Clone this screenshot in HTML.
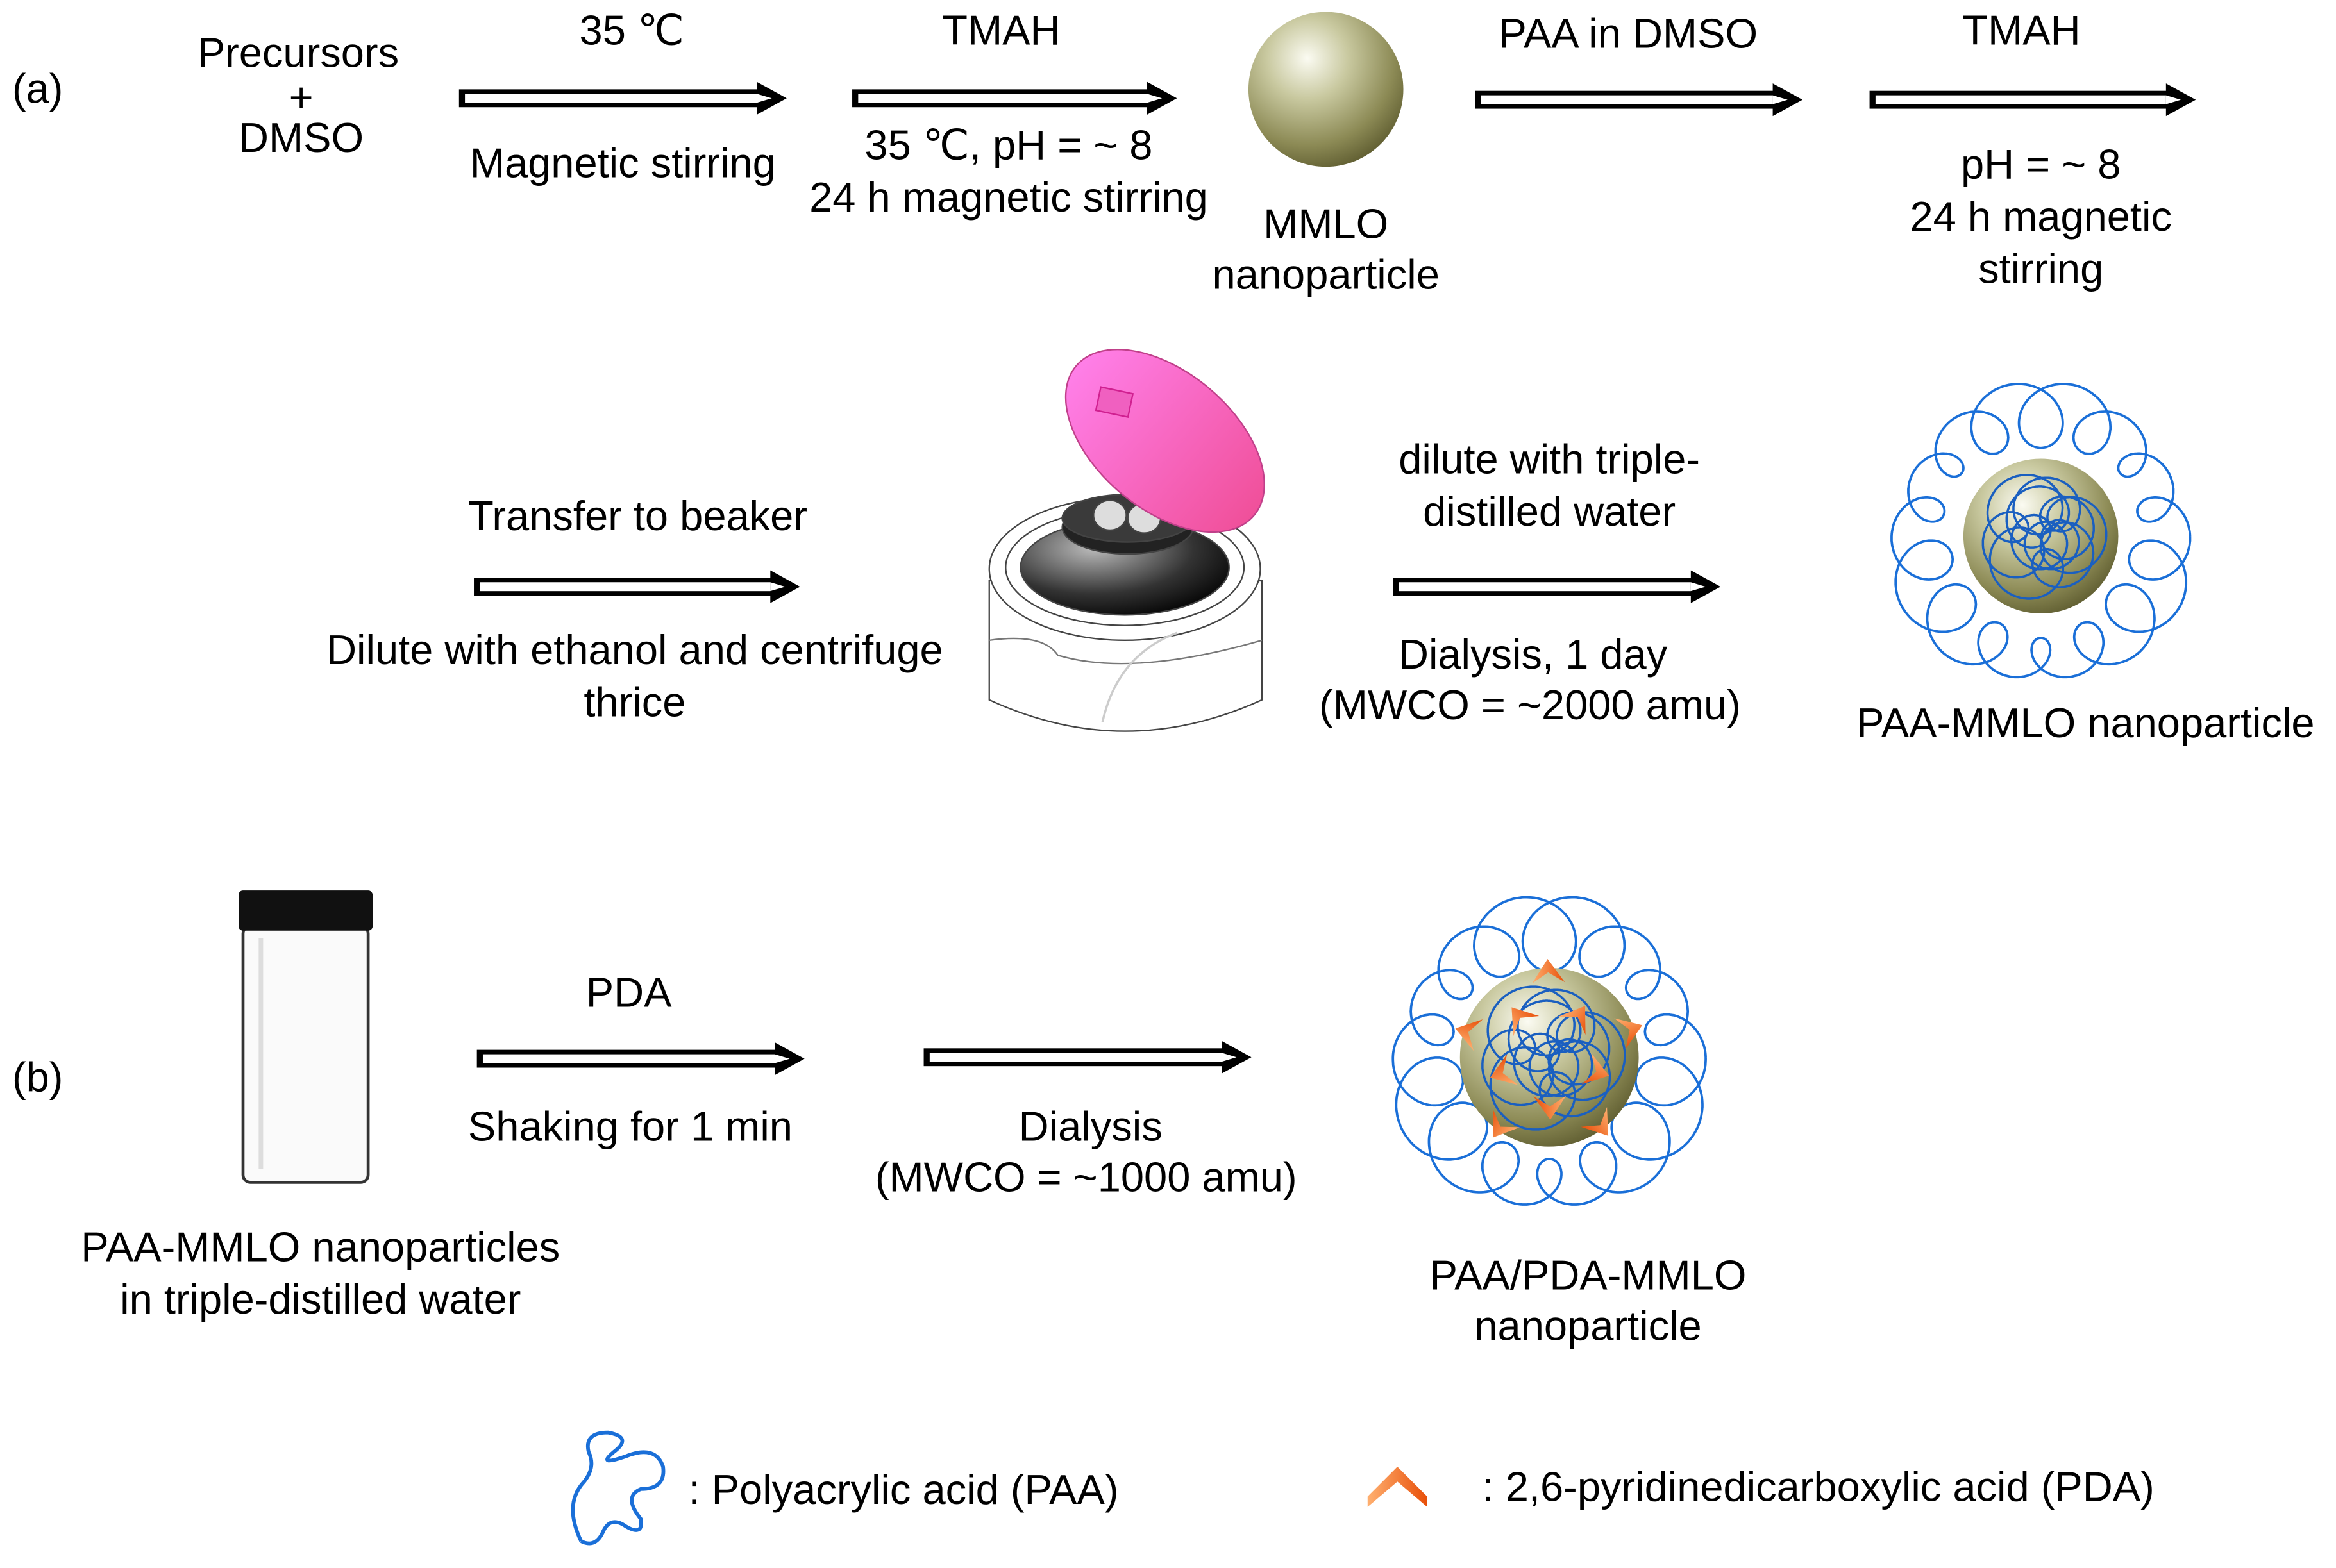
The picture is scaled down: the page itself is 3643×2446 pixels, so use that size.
<!DOCTYPE html>
<html><head><meta charset="utf-8"><style>
html,body{margin:0;padding:0;background:#fff}
svg{display:block}
text{font-family:"Liberation Sans",Arial,sans-serif;font-size:28px;fill:#000}
</style></head><body>
<svg id="s" width="3643" height="2446" viewBox="0 0 1568 1053" xmlns="http://www.w3.org/2000/svg">
<defs>
<radialGradient id="sph" cx="0.38" cy="0.3" r="0.75">
<stop offset="0" stop-color="#fbfbf2"/><stop offset="0.35" stop-color="#c9c9a0"/><stop offset="0.75" stop-color="#8c8a55"/><stop offset="1" stop-color="#5e5c30"/>
</radialGradient>
<linearGradient id="lid" x1="0" y1="0" x2="1" y2="0"><stop offset="0" stop-color="#ff7fe8"/><stop offset="1" stop-color="#f0509a"/></linearGradient>
<radialGradient id="bowl" cx="0.35" cy="0.3" r="0.8"><stop offset="0" stop-color="#bbb"/><stop offset="0.6" stop-color="#333"/><stop offset="1" stop-color="#000"/></radialGradient>
<linearGradient id="or" x1="0" y1="0" x2="1" y2="0"><stop offset="0" stop-color="#ffb070"/><stop offset="1" stop-color="#e8500a"/></linearGradient>
</defs>
<g id="arrows"></g>

<text x="8" y="69" font-size="33">(a)</text>
<text x="8" y="733" font-size="33">(b)</text>

<g text-anchor="middle">
<text x="200" y="45" font-size="27">Precursors</text>
<text x="202" y="75" font-size="12">+</text>
<text x="202" y="102" font-size="27">DMSO</text>
<text x="424" y="30">35 ℃</text>
<text x="418" y="119">Magnetic stirring</text>
<text x="672" y="30">TMAH</text>
<text x="677" y="107">35 ℃, pH = ~ 8</text>
<text x="677" y="142">24 h magnetic stirring</text>
<text x="890" y="160">MMLO</text>
<text x="890" y="194">nanoparticle</text>
<text x="1093" y="32">PAA in DMSO</text>
<text x="1357" y="30">TMAH</text>
<text x="1370" y="120">pH = ~ 8</text>
<text x="1370" y="155">24 h magnetic</text>
<text x="1370" y="190">stirring</text>

<text x="428" y="356">Transfer to beaker</text>
<text x="426" y="446">Dilute with ethanol and centrifuge</text>
<text x="426" y="481">thrice</text>
<text x="1040" y="318">dilute with triple-</text>
<text x="1040" y="353">distilled water</text>
<text x="1029" y="449">Dialysis, 1 day</text>
<text x="1027" y="483">(MWCO = ~2000 amu)</text>
<text x="1400" y="495">PAA-MMLO nanoparticle</text>

<text x="422" y="676">PDA</text>
<text x="423" y="766">Shaking for 1 min</text>
<text x="732" y="766">Dialysis</text>
<text x="729" y="800">(MWCO = ~1000 amu)</text>
<text x="215" y="847">PAA-MMLO nanoparticles</text>
<text x="215" y="882">in triple-distilled water</text>
<text x="1066" y="866">PAA/PDA-MMLO</text>
<text x="1066" y="900">nanoparticle</text>
</g>
<text x="462" y="1010">: Polyacrylic acid (PAA)</text>
<text x="995" y="1008">: 2,6-pyridinedicarboxylic acid (PDA)</text>

<circle cx="890" cy="60" r="52" fill="url(#sph)"/>

<!-- centrifuge -->
<g stroke="#444" stroke-width="1">
<path d="M664 390 L664 470 Q755 512 847 470 L847 390 Z" fill="#fff"/>
<path d="M664 430 Q700 425 710 440 Q760 455 847 430" fill="none" stroke="#777"/>
<ellipse cx="755" cy="382" rx="91" ry="48" fill="#fff"/>
<ellipse cx="755" cy="381" rx="80" ry="39" fill="none"/>
<ellipse cx="755" cy="381" rx="70" ry="32" fill="url(#bowl)"/>
<ellipse cx="757" cy="354" rx="44" ry="18" fill="#222"/>
<ellipse cx="757" cy="348" rx="44" ry="16" fill="#3a3a3a"/>
<ellipse cx="745" cy="346" rx="11" ry="10" fill="#ddd"/>
<ellipse cx="768" cy="348" rx="11" ry="10" fill="#ddd"/>
<path d="M740 485 Q750 440 790 425" fill="none" stroke="#ccc" stroke-width="1.5"/>
<ellipse cx="782" cy="296" rx="78" ry="46" transform="rotate(40 782 296)" fill="url(#lid)" stroke="#c0408a"/>
<rect x="737" y="262" width="22" height="16" transform="rotate(12 748 270)" fill="#f060c0" stroke="#d02090"/>
</g>

<!-- vial -->
<rect x="163" y="622" width="84" height="172" rx="5" fill="#fafafa" stroke="#333" stroke-width="2"/>
<line x1="175" y1="630" x2="175" y2="785" stroke="#ddd" stroke-width="3"/>
<rect x="160" y="598" width="90" height="27" rx="3" fill="#111"/>

<g id="p1"></g>
<g id="p2"></g>
<g id="leg"></g>
</svg>
<script>
const NS="http://www.w3.org/2000/svg";
function el(p,t,a){const e=document.createElementNS(NS,t);for(const k in a)e.setAttribute(k,a[k]);p.appendChild(e);return e;}
const A=document.getElementById('arrows');
function arrow(x1,x2,y){
  el(A,'rect',{x:x1,y:y-6,width:x2-x1-14,height:12,fill:'#000'});
  el(A,'rect',{x:x1+4,y:y-3,width:x2-x1-18,height:6,fill:'#fff'});
  el(A,'polygon',{points:`${x2-20},${y-11} ${x2},${y} ${x2-20},${y+11}`,fill:'#000'});
  el(A,'polygon',{points:`${x2-20},${y-3} ${x2-10},${y} ${x2-20},${y+3}`,fill:'#fff'});
}
arrow(308,528,66);arrow(572,790,66);arrow(990,1210,67);arrow(1255,1474,67);
arrow(318,537,394);arrow(935,1155,394);
arrow(320,540,711);arrow(620,840,710);
function troch(cx,cy,R,r,k,ph,w){
  let d='';for(let i=0;i<=1400;i++){const t=i/1400*2*Math.PI;
   const rr=r*(1+0.25*Math.sin(3*t+w));
   const x=cx+R*Math.cos(t)+rr*Math.cos(k*t+ph), y=cy+R*Math.sin(t)+rr*Math.sin(k*t+ph);
   d+=(i?'L':'M')+x.toFixed(1)+' '+y.toFixed(1);}return d;}
function particle(g,cx,cy,rs,R,orange){
  const G=document.getElementById(g);
  el(G,'path',{d:troch(cx,cy,R,rs*0.35,15,0,0),fill:'none',stroke:'#1a6fd8','stroke-width':1.6});
  el(G,'circle',{cx,cy,r:rs,fill:'url(#sph)'});
  el(G,'path',{d:troch(cx,cy,rs*0.45,rs*0.35,7,1,1),fill:'none',stroke:'#1a5fc0','stroke-width':1.5});
  el(G,'path',{d:troch(cx+5,cy-3,rs*0.25,rs*0.3,5,2,2),fill:'none',stroke:'#1a5fc0','stroke-width':1.5});
  if(orange){for(let i=0;i<10;i++){const a=i/10*2*Math.PI+0.3, rr=rs*(i%2?0.95:0.55);
    const x=cx+rr*Math.cos(a),y=cy+rr*Math.sin(a);
    el(G,'polygon',{points:`${x-11},${y+7} ${x},${y-9} ${x+11},${y+7} ${x},${y}`,fill:'url(#or)',transform:`rotate(${a*57+90} ${x} ${y})`});}}
}
particle('p1',1370,360,52,82,false);
particle('p2',1040,710,60,84,true);
const L=document.getElementById('leg');
el(L,'path',{d:'M390 1035 Q378 1010 392 995 Q400 985 395 975 Q392 962 408 962 Q425 965 412 975 Q400 985 420 978 Q440 970 445 985 Q447 1000 430 1000 Q418 1005 430 1020 Q432 1032 420 1025 Q410 1018 405 1028 Q400 1040 390 1035',fill:'none',stroke:'#1a6fd8','stroke-width':2.5});
el(L,'polygon',{points:'918,1005 938,985 958,1005 958,1012 938,995 918,1012',fill:'url(#or)'});
</script>
</body></html>
